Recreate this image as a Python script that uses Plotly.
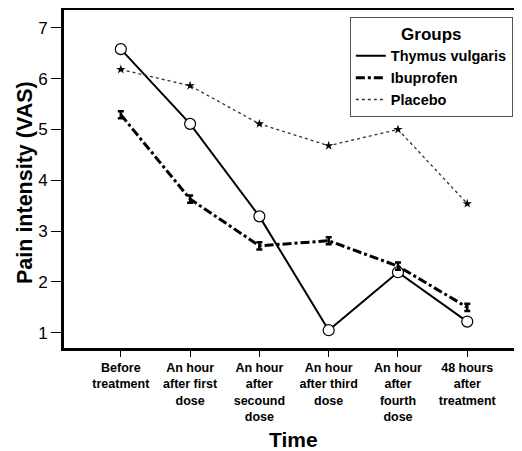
import plotly.graph_objects as go

categories = ["Before<br>treatment", "An hour<br>after first<br>dose", "An hour<br>after<br>secound<br>dose",
              "An hour<br>after third<br>dose", "An hour<br>after<br>fourth<br>dose", "48 hours<br>after<br>treatment"]
thymus = [6.58, 5.11, 3.29, 1.05, 2.19, 1.22]
ibuprofen = [5.29, 3.63, 2.71, 2.81, 2.31, 1.50]
ibuprofen_err = [0.07, 0.07, 0.07, 0.07, 0.07, 0.07]
placebo = [6.18, 5.86, 5.11, 4.68, 5.00, 3.54]
series_names = ["Thymus vulgaris", "Ibuprofen", "Placebo"]

x = list(range(len(categories)))
FONT = "Liberation Sans, Arial, sans-serif"

thy_line = dict(color="black", width=2, dash="solid")
ibu_line = dict(color="black", width=3, dash="dashdot")
pla_line = dict(color="#333333", width=1.3, dash="dot")

fig = go.Figure()
fig.add_trace(go.Scatter(
    x=x, y=thymus, mode="lines+markers", showlegend=False, line=thy_line,
    marker=dict(symbol="circle", size=11, color="white", line=dict(color="black", width=1.2)),
))
fig.add_trace(go.Scatter(
    x=x, y=ibuprofen, mode="lines+markers", showlegend=False, line=ibu_line,
    marker=dict(symbol="line-ew", size=1, color="black", line=dict(color="black", width=0)),
    error_y=dict(type="data", array=ibuprofen_err, visible=True, color="black", thickness=2.5, width=3),
))
fig.add_trace(go.Scatter(
    x=x, y=placebo, mode="lines+markers", showlegend=False, line=pla_line,
    marker=dict(symbol="star", size=7, color="black"),
))
# legend entries (lines only, like the reference)
for nm, ln in zip(series_names, [thy_line, ibu_line, pla_line]):
    fig.add_trace(go.Scatter(x=[None], y=[None], mode="lines", name="<b>%s</b>" % nm, line=ln))

fig.update_layout(
    width=514, height=443,
    margin=dict(l=56, r=0, t=2, b=103),
    paper_bgcolor="white", plot_bgcolor="white",
    font=dict(family=FONT, color="black"),
    showlegend=True,
    legend=dict(
        x=0.980, xanchor="right", y=0.98, yanchor="top",
        bordercolor="#555555", borderwidth=1, bgcolor="white",
        title=dict(text="<b>Groups</b>", side="top center", font=dict(size=17, family=FONT)),
        font=dict(size=14.5, family=FONT),
        itemwidth=30, tracegroupgap=0,
    ),
    xaxis=dict(
        tickmode="array", tickvals=x, ticktext=["<b>%s</b>" % c for c in categories],
        range=[-0.82, 5.79], showgrid=False, zeroline=False,
        showline=True, linecolor="black", linewidth=3, mirror=True,
        ticks="outside", ticklen=6, tickwidth=1, tickcolor="black",
        tickfont=dict(size=12.5, family=FONT),
    ),
    yaxis=dict(
        range=[0.7, 7.35], tickvals=[1, 2, 3, 4, 5, 6, 7],
        showgrid=False, zeroline=False,
        showline=True, linecolor="black", linewidth=3,
        ticks="outside", ticklen=10, tickwidth=1, tickcolor="black",
        tickfont=dict(size=17, family=FONT),
    ),
    annotations=[
        dict(text="<b>Time</b>", xref="paper", yref="paper", x=0.5, y=-(439 - 348) / 338,
             xanchor="center", yanchor="middle", showarrow=False, font=dict(size=21, family=FONT)),
        dict(text="<b>Pain intensity (VAS)</b>", xref="paper", yref="paper",
             x=-(64 - 25) / 458, y=(348 - 183) / 338, textangle=-90,
             xanchor="center", yanchor="middle", showarrow=False, font=dict(size=21.5, family=FONT)),
    ],
)

fig.write_html("out.html")
